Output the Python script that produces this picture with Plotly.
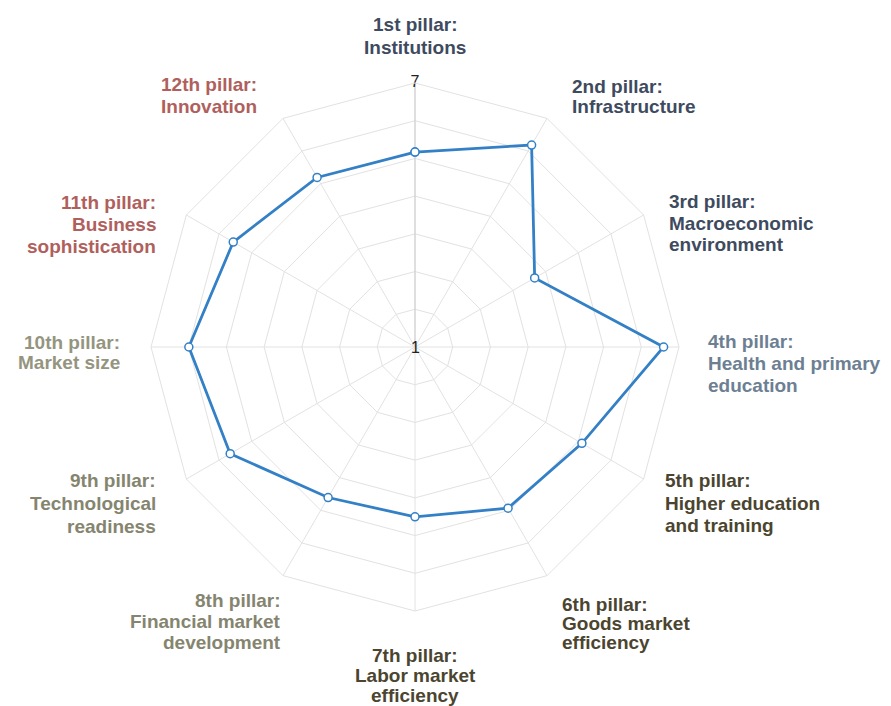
import math
import plotly.graph_objects as go

# ---------------- data ----------------
pillars = [
    "1st pillar:<br>Institutions",
    "2nd pillar:<br>Infrastructure",
    "3rd pillar:<br>Macroeconomic<br>environment",
    "4th pillar:<br>Health and primary<br>education",
    "5th pillar:<br>Higher education<br>and training",
    "6th pillar:<br>Goods market<br>efficiency",
    "7th pillar:<br>Labor market<br>efficiency",
    "8th pillar:<br>Financial market<br>development",
    "9th pillar:<br>Technological<br>readiness",
    "10th pillar:<br>Market size",
    "11th pillar:<br>Business<br>sophistication",
    "12th pillar:<br>Innovation",
]
scores = [5.43, 6.30, 4.14, 6.65, 5.38, 5.23, 4.86, 4.95, 5.85, 6.14, 5.77, 5.45]
scale_min, scale_max = 1, 7
scale_labels = ["1", "7"]

# ---------------- style ----------------
label_colors = [
    "#3e4b5e", "#3e4b5e", "#3e4b5e", "#6d7f92",
    "#4b4530", "#4b4530", "#4b4530",
    "#85856f", "#85856f", "#95957f",
    "#b0605c", "#b0605c",
]
# label placement relative to each axis end (pixels): (dx to text edge, dy of first line)
label_nudge = [(0, -58), (24, -32), (24, -14), (28, -6), (20, 2), (14, 29),
               (0, 44), (-1, 25), (-29, 1), (-30, -5), (-29, -13), (-25, -34)]
line_gap = [22, 20, 22, 22, 22, 19, 20, 21, 23, 20, 22, 22]
n_rings = 7
ring_vals = [scale_min + (scale_max - scale_min) * k / n_rings for k in range(n_rings + 1)]

W, H = 883, 698
SIDE = 528
ML, MT = 143, 75
MR, MB = W - ML - SIDE, H - MT - SIDE

fig = go.Figure()
fig.add_trace(go.Scatterpolar(
    r=scores + scores[:1],
    theta=pillars + pillars[:1],
    mode="lines+markers",
    line=dict(color="#3380c6", width=2.8),
    marker=dict(size=8, color="white", line=dict(color="#3380c6", width=1.5)),
    hoverinfo="skip",
    showlegend=False,
))
# outer scale label ("7") at the end of the first axis
fig.add_trace(go.Scatterpolar(
    r=[scale_max],
    theta=[pillars[0]],
    mode="text",
    text=[scale_labels[1]],
    textposition="middle center",
    textfont=dict(family="Liberation Sans", size=16, color="#222222"),
    cliponaxis=False,
    hoverinfo="skip",
    showlegend=False,
))

annotations = []
# inner scale label ("1") at the polar centre
annotations.append(dict(
    x=0.5, y=0.5, xref="paper", yref="paper",
    text=scale_labels[0], showarrow=False,
    xanchor="center", yanchor="middle",
    font=dict(family="Liberation Sans", size=16, color="#222222"),
    borderpad=0,
))

# category labels, one annotation per line, placed around the axis ends
n = len(pillars)
for i, (name, col) in enumerate(zip(pillars, label_colors)):
    ang = 2 * math.pi * i / n
    vx = 0.5 + 0.5 * math.sin(ang)
    vy = 0.5 + 0.5 * math.cos(ang)
    dx, dy = label_nudge[i]
    if abs(math.sin(ang)) < 1e-6:
        xa = "center"
    elif math.sin(ang) > 0:
        xa = "left"
    else:
        xa = "right"
    for j, line in enumerate(name.split("<br>")):
        annotations.append(dict(
            x=vx + dx / SIDE,
            y=vy - (dy + j * line_gap[i]) / SIDE,
            xref="paper", yref="paper",
            text=line,
            showarrow=False,
            xanchor=xa, yanchor="middle",
            font=dict(family="Liberation Sans", size=19, color=col, weight="bold"),
            borderpad=0,
        ))

fig.update_layout(
    width=W, height=H,
    margin=dict(l=ML, r=MR, t=MT, b=MB, pad=0),
    paper_bgcolor="white",
    showlegend=False,
    annotations=annotations,
    polar=dict(
        bgcolor="white",
        gridshape="linear",
        domain=dict(x=[0, 1], y=[0, 1]),
        radialaxis=dict(
            range=[scale_min, scale_max],
            tickvals=ring_vals,
            showticklabels=False,
            ticks="",
            showgrid=True,
            gridcolor="#e2e2e2",
            gridwidth=1,
            showline=True,
            linecolor="#cdcdcd",
            linewidth=1,
            angle=90,
            layer="below traces",
        ),
        angularaxis=dict(
            direction="clockwise",
            rotation=90,
            tickvals=pillars,
            showticklabels=False,
            ticks="",
            showgrid=True,
            gridcolor="#e2e2e2",
            showline=True,
            linecolor="#e2e2e2",
            linewidth=1,
        ),
    ),
)

fig.write_html("out.html")
